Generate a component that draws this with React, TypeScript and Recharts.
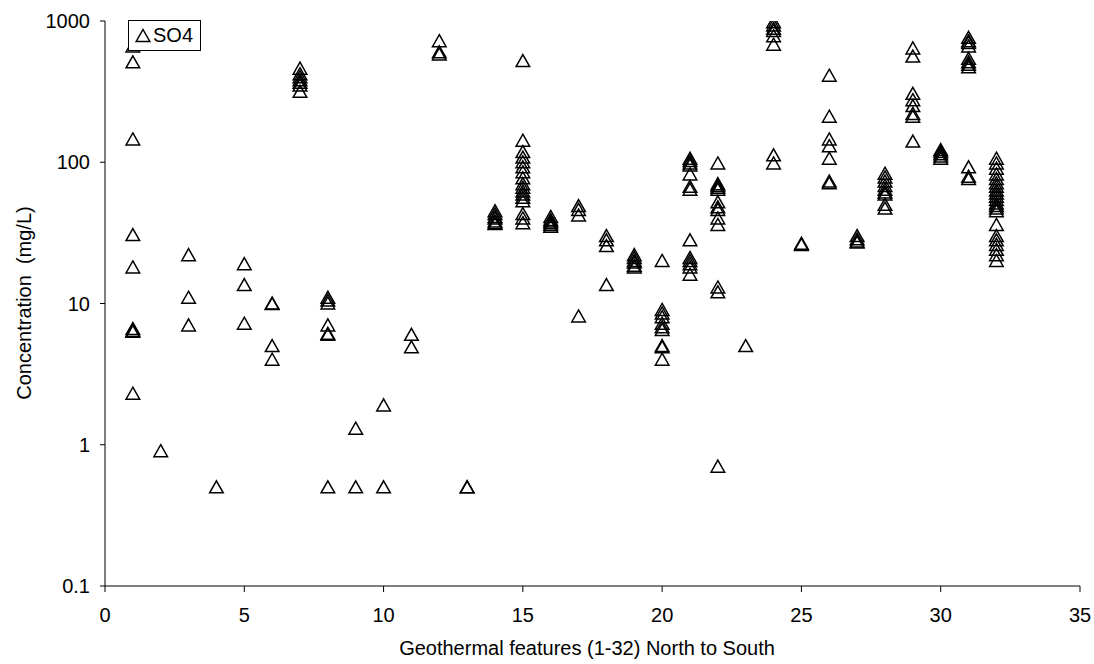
import { ScatterChart, Scatter, XAxis, YAxis, Legend } from "recharts"

// geothermal feature number (1-32, north to south)
const features = [
  1, 2, 3, 4, 5, 6, 7, 8, 9, 10, 11, 12, 13, 14, 15, 16,
  17, 18, 19, 20, 21, 22, 23, 24, 25, 26, 27, 28, 29, 30, 31, 32,
]

// SO4 concentrations (mg/L) sampled at each feature, same order as features
const so4Values: number[][] = [
  [660, 510, 145, 30.5, 18, 6.6, 6.4, 6.3, 2.3],
  [0.9],
  [22, 11, 7],
  [0.5],
  [19, 13.5, 7.2],
  [10, 9.9, 5, 4],
  [460, 420, 400, 380, 365, 350, 315],
  [11, 10.5, 10, 7, 6.1, 6, 0.5],
  [1.3, 0.5],
  [1.9, 0.5],
  [6, 4.9],
  [720, 600, 580],
  [0.5, 0.5],
  [45, 43, 41, 40, 38, 37, 36.5],
  [520, 142, 118, 108, 100, 92, 85, 77, 70, 66, 62, 59, 56, 53, 43, 40, 37],
  [41, 39, 38, 37, 36, 35],
  [49, 46, 42, 8.1],
  [30, 28, 25.5, 13.5],
  [22, 21, 20, 19.5, 18.5, 18],
  [20, 9, 8.5, 8, 7.2, 6.8, 6.5, 5, 4.9, 4],
  [106, 102, 98, 95, 82, 67, 64, 28, 21, 20, 19, 18, 16],
  [98, 70, 68, 66, 64, 52, 48, 46, 40, 36, 13, 12, 0.7],
  [5],
  [980, 930, 880, 850, 780, 680, 112, 98],
  [26.5, 26],
  [410, 210, 145, 130, 106, 73, 71],
  [30, 28.5, 27.5, 27],
  [83, 78, 73, 68, 64, 61, 59, 50, 47],
  [640, 560, 305, 275, 250, 220, 210, 140],
  [122, 118, 114, 110, 106],
  [760, 720, 700, 660, 540, 510, 490, 470, 92, 79, 76],
  [106, 98, 90, 82, 76, 71, 67, 63, 60, 57, 54, 51, 49, 47, 45, 36, 30, 28, 26, 24, 22, 20],
]

const xTicks = [0, 5, 10, 15, 20, 25, 30, 35]
const yTicks = [0.1, 1, 10, 100, 1000]

const seriesName = "SO4"

const so4Data = features.flatMap((f, i) => so4Values[i].map((v) => ({ x: f, y: v })))

const FONT = "'Liberation Sans', Arial, Helvetica, sans-serif"

const Triangle = (props: any) => {
  const { cx, cy } = props
  if (cx == null || cy == null) return null
  return (
    <path
      d={`M${cx},${cy - 6.5} L${cx + 6.8},${cy + 5.5} L${cx - 6.8},${cy + 5.5} Z`}
      fill="none"
      stroke="#000"
      strokeWidth={1.5}
    />
  )
}

const LegendBox = (props: any) => {
  const items = props.payload || []
  return (
    <div
      style={{
        border: "1px solid #000",
        background: "#fff",
        width: 71,
        height: 29,
        boxSizing: "content-box",
        display: "flex",
        alignItems: "center",
        fontFamily: FONT,
        fontSize: 20,
        color: "#000",
      }}
    >
      {items.map((it: any) => (
        <span key={it.value} style={{ display: "flex", alignItems: "center" }}>
          <svg width={18} height={20} style={{ marginLeft: 5 }}>
            <path d="M9,3.5 L15.8,15.5 L2.2,15.5 Z" fill="none" stroke="#000" strokeWidth={1.5} />
          </svg>
          <span style={{ marginLeft: 1 }}>{it.value}</span>
        </span>
      ))}
    </div>
  )
}

export default function App() {
  return (
    <div style={{ position: "absolute", left: 0, top: 0, width: 1094, height: 664, background: "#fff" }}>
      <ScatterChart
        width={1094}
        height={664}
        margin={{ top: 21, right: 14, bottom: 0, left: 0 }}
        style={{ fontFamily: FONT }}
      >
        <XAxis
          type="number"
          dataKey="x"
          domain={[0, 35]}
          ticks={xTicks}
          height={78}
          tickSize={6}
          tickMargin={16}
          axisLine={{ stroke: "#000" }}
          tickLine={{ stroke: "#000" }}
          tick={{ fill: "#000", fontSize: 20, fontFamily: FONT }}
          allowDataOverflow
        />
        <YAxis
          type="number"
          dataKey="y"
          scale="log"
          domain={[0.1, 1000]}
          ticks={yTicks}
          width={105}
          tickSize={5}
          tickMargin={10}
          axisLine={{ stroke: "#000" }}
          tickLine={{ stroke: "#000" }}
          tick={{ fill: "#000", fontSize: 20, fontFamily: FONT }}
          allowDataOverflow
        />
        <Scatter
          name={seriesName}
          data={so4Data}
          shape={Triangle}
          isAnimationActive={false}
        />
        <Legend
          layout="vertical"
          align="center"
          verticalAlign="middle"
          content={LegendBox}
          wrapperStyle={{ left: 128, top: 20, width: 73, height: 31, right: "auto", bottom: "auto" }}
        />

        {/* axis titles */}
        <text
          x={24}
          y={303}
          transform="rotate(-90, 24, 303)"
          textAnchor="middle"
          dominantBaseline="central"
          fontSize={20}
          fontFamily={FONT}
          fill="#000"
        >
          Concentration&#160;&#160;(mg/L)
        </text>
        <text
          x={587}
          y={648}
          textAnchor="middle"
          dominantBaseline="central"
          fontSize={20}
          fontFamily={FONT}
          fill="#000"
        >
          Geothermal features (1-32) North to South
        </text>
      </ScatterChart>
    </div>
  )
}
